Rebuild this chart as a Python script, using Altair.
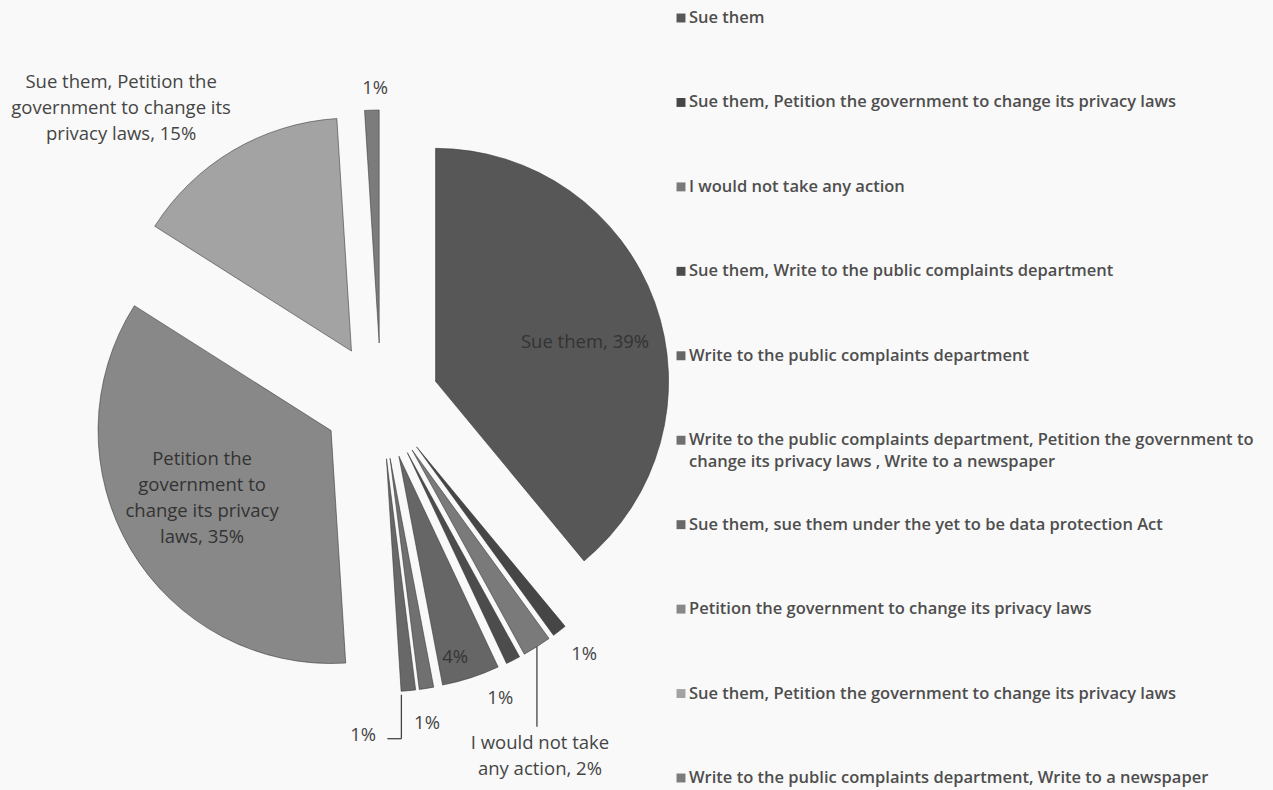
import altair as alt
import pandas as pd

# ---- data ----
categories = [
    "Sue them",
    "Sue them, Petition the government to change its privacy laws",
    "I would not take any action",
    "Sue them, Write to the public complaints department",
    "Write to the public complaints department",
    "Write to the public complaints department, Petition the government to change its privacy laws , Write to a newspaper",
    "Sue them, sue them under the yet to be data protection Act",
    "Petition the government to change its privacy laws",
    "Sue them, Petition the government to change its privacy laws",
    "Write to the public complaints department, Write to a newspaper",
]
percent = [39, 1, 2, 1, 4, 1, 1, 35, 15, 1]
slice_labels = [
    "Sue them, 39%",
    "1%",
    "I would not take\nany action, 2%",
    "1%",
    "4%",
    "1%",
    "1%",
    "Petition the\ngovernment to\nchange its privacy\nlaws, 35%",
    "Sue them, Petition the\ngovernment to change its\nprivacy laws, 15%",
    "1%",
]
legend_labels = [
    categories[0], categories[1], categories[2], categories[3], categories[4],
    "Write to the public complaints department, Petition the government to\nchange its privacy laws , Write to a newspaper",
    categories[6], categories[7], categories[8], categories[9],
]

# ---- style / layout ----
grays = ["#575757", "#464646", "#7a7a7a", "#4c4c4c", "#666666",
         "#707070", "#686868", "#888888", "#a3a3a3", "#7c7c7c"]
CX, CY = 381, 401        # pie centre (pixels)
EXPLODE = 58             # explosion distance
R = 233                  # slice radius
FONT = "Open Sans"

df = pd.DataFrame({
    "i": list(range(len(categories))),
    "category": categories,
    "percent": percent,
    "label": slice_labels,
    "legend": legend_labels,
})

base = alt.Chart(df).transform_joinaggregate(
    total="sum(percent)"
).transform_window(
    cum="sum(percent)", sort=[alt.SortField("i")], frame=[None, 0]
).transform_calculate(
    t1="2*PI*datum.cum/datum.total",
    t0="2*PI*(datum.cum-datum.percent)/datum.total",
).transform_calculate(
    mid="(datum.t0+datum.t1)/2",
).transform_calculate(
    ax=f"{CX}+{EXPLODE}*sin(datum.mid)",
    ay=f"{CY}-{EXPLODE}*cos(datum.mid)",
    tx=f"{CX}+{EXPLODE + R}*sin(datum.mid)",
    ty=f"{CY}-{EXPLODE + R}*cos(datum.mid)",
)

pie = base.mark_arc(outerRadius=R, stroke="#333333", strokeWidth=1,
                    strokeOpacity=0.55).encode(
    x=alt.X("ax:Q", scale=None, axis=None),
    y=alt.Y("ay:Q", scale=None, axis=None),
    theta=alt.Theta("t0:Q", scale=None),
    theta2="t1:Q",
    color=alt.Color("i:N", scale=alt.Scale(domain=list(range(10)), range=grays),
                    legend=None),
    tooltip=["category:N", "percent:Q"],
)

# label placement: (slice index, radial distance from centre, dx, dy, colour)
# for multi-line labels the anchor is the first line
label_specs = [
    (0, 220, -3, 16, "#333333"),
    (1, 320, 7, 0, "#454545"),
    (2, EXPLODE + R, 3, 96, "#454545"),
    (3, 320, -26, 12, "#454545"),
    (4, 266, -8, 3, "#353535"),
    (5, 320, -4, 6, "#454545"),
    (6, 320, -48, 15, "#454545"),
    (7, 180, -24, -34, "#333333"),
    (8, 320, -97, -44, "#454545"),
    (9, 313, 4, 0, "#454545"),
]

layers = [pie]
for idx, rl, dx, dy, col in label_specs:
    layers.append(
        base.transform_filter(alt.datum.i == idx).transform_calculate(
            lx=f"{CX}+{rl}*sin(datum.mid)",
            ly=f"{CY}-{rl}*cos(datum.mid)",
        ).mark_text(font=FONT, fontSize=18.5, color=col, dx=dx, dy=dy,
                    align="center", baseline="middle", lineBreak="\n",
                    lineHeight=26).encode(
            x=alt.X("lx:Q", scale=None, axis=None),
            y=alt.Y("ly:Q", scale=None, axis=None),
            text="label:N",
        )
    )

# leader lines
lead2 = base.transform_filter(alt.datum.i == 2).transform_calculate(
    y2v="datum.ty+80"
).mark_rule(color="#444444", strokeWidth=1.3).encode(
    x=alt.X("tx:Q", scale=None, axis=None),
    y=alt.Y("ty:Q", scale=None, axis=None),
    y2="y2v:Q",
)
lead6a = base.transform_filter(alt.datum.i == 6).transform_calculate(
    x1="datum.tx-7", y1="datum.ty+4", x2v="datum.tx-7", y2v="datum.ty+48"
).mark_rule(color="#444444", strokeWidth=1.3).encode(
    x=alt.X("x1:Q", scale=None, axis=None),
    y=alt.Y("y1:Q", scale=None, axis=None),
    x2="x2v:Q", y2="y2v:Q",
)
lead6b = base.transform_filter(alt.datum.i == 6).transform_calculate(
    x1="datum.tx-7", y1="datum.ty+48", x2v="datum.tx-21", y2v="datum.ty+48"
).mark_rule(color="#444444", strokeWidth=1.3).encode(
    x=alt.X("x1:Q", scale=None, axis=None),
    y=alt.Y("y1:Q", scale=None, axis=None),
    x2="x2v:Q", y2="y2v:Q",
)
layers += [lead2, lead6a, lead6b]

# manual legend (right column)
leg_y = alt.Y("i:O", scale=alt.Scale(type="point", range=[18, 778], padding=0),
              axis=None)
leg_sq = alt.Chart(df).mark_square(size=80, opacity=1).encode(
    x=alt.value(681),
    y=leg_y,
    color=alt.Color("i:N", scale=alt.Scale(domain=list(range(10)), range=grays),
                    legend=None),
)
leg_tx = alt.Chart(df).mark_text(font=FONT, fontSize=16.5, fontWeight=600,
                                 color="#4e4e4e", align="left", baseline="middle",
                                 lineBreak="\n", lineHeight=22).encode(
    x=alt.value(689),
    y=leg_y,
    text="legend:N",
)

chart = alt.layer(*layers).resolve_scale(color="shared")
full = alt.layer(chart, leg_sq, leg_tx).resolve_scale(
    x="independent", y="independent"
).properties(
    width=1273, height=790, padding=0,
    autosize=alt.AutoSizeParams(type="none"),
    background="#f9f9f9",
).configure_view(stroke=None)

full.save("out.html", embed_options={"renderer": "svg", "actions": False})
